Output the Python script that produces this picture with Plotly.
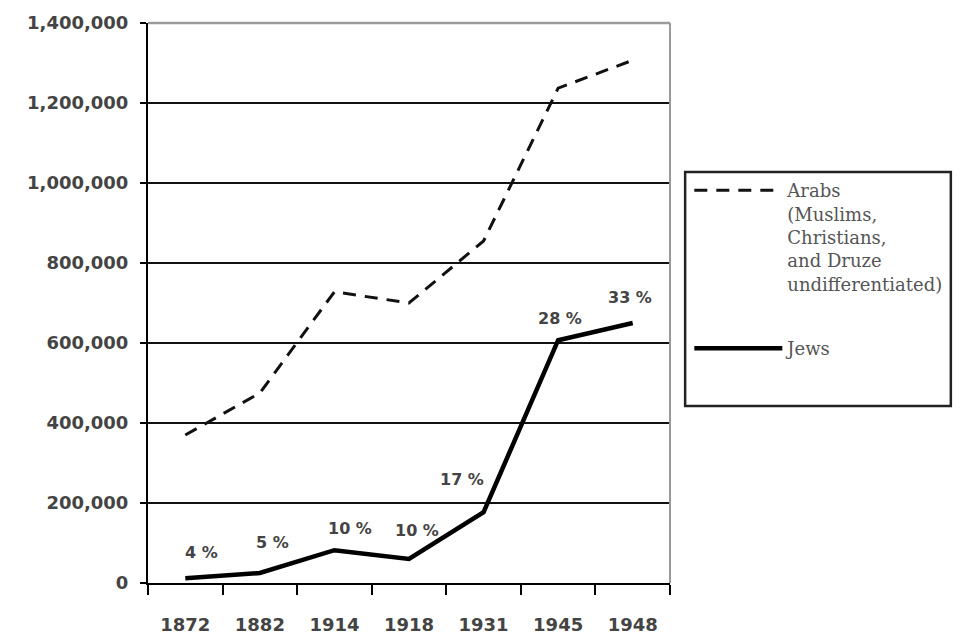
import plotly.graph_objects as go

# ---- data ----
years = ["1872", "1882", "1914", "1918", "1931", "1945", "1948"]
arabs = [370000, 475000, 728000, 700000, 855000, 1237000, 1307000]
jews = [12000, 25000, 82000, 60000, 177000, 607000, 650000]
jews_share = ["4 %", "5 %", "10 %", "10 %", "17 %", "28 %", "33 %"]
y_ticks = [0, 200000, 400000, 600000, 800000, 1000000, 1200000, 1400000]

arabs_name = "Arabs<br>(Muslims,<br>Christians,<br>and Druze<br>undifferentiated)"

fig = go.Figure()
fig.add_trace(go.Scatter(
    x=years, y=arabs, mode="lines", name=arabs_name, legendgroup="a",
    line=dict(color="#111111", width=3, dash="13px,9px"),
))
fig.add_trace(go.Scatter(
    x=years, y=jews, mode="lines", name="Jews", legendgroup="j",
    line=dict(color="#000000", width=4.5),
))

# label offsets (pixels) relative to each Jews point
label_dx = [16, 13, 16, 8, -22, 2, -3]
label_dy = [26, 31, 22, 29, 33, 22, 26]
for i, (val, txt) in enumerate(zip(jews, jews_share)):
    fig.add_annotation(
        x=i, y=val, xref="x", yref="y", text=txt, showarrow=False,
        xshift=label_dx[i], yshift=label_dy[i],
        font=dict(family="DejaVu Sans", size=16, color="#444444", weight="bold"),
    )

fig.update_layout(
    width=960, height=640,
    margin=dict(l=148, r=287, t=23, b=57),
    paper_bgcolor="white", plot_bgcolor="white",
    showlegend=True,
    legend=dict(
        x=1.037, y=0.734, xanchor="left", yanchor="top",
        bgcolor="rgba(0,0,0,0)", borderwidth=0,
        font=dict(family="DejaVu Serif", size=18, color="#555555"),
        valign="top", tracegroupgap=38, itemwidth=88,
    ),
    xaxis=dict(
        type="category", tickson="boundaries", automargin=False,
        showline=True, linecolor="#000000", linewidth=2,
        ticks="outside", ticklen=10, tickwidth=2, tickcolor="#000000",
        showgrid=False, ticklabelstandoff=24,
        tickfont=dict(family="DejaVu Sans", size=18, color="#444444", weight="bold"),
        range=[-0.5, 6.5],
    ),
    yaxis=dict(
        range=[0, 1400000], tickvals=y_ticks, tickformat=",d", automargin=False,
        showline=True, linecolor="#000000", linewidth=2,
        ticks="outside", ticklen=6, tickwidth=2, tickcolor="#000000",
        showgrid=True, gridcolor="#111111", gridwidth=2,
        zeroline=False, ticklabelstandoff=8,
        tickfont=dict(family="DejaVu Sans", size=18, color="#444444", weight="bold"),
    ),
    shapes=[
        # grey frame on the top and right of the plot area
        dict(type="line", xref="paper", yref="paper", x0=0, x1=1, y0=1, y1=1,
             line=dict(color="#9a9a9a", width=2.5), layer="above"),
        dict(type="line", xref="paper", yref="paper", x0=1, x1=1, y0=0, y1=1,
             line=dict(color="#9a9a9a", width=2), layer="above"),
        # legend box
        dict(type="rect", xref="paper", yref="paper",
             x0=1.029, x1=1.538, y0=0.316, y1=0.734,
             line=dict(color="#222222", width=2.5)),
    ],
)

fig.write_html("out.html", config={"displayModeBar": False},
               post_script="document.body.style.margin='0';")
